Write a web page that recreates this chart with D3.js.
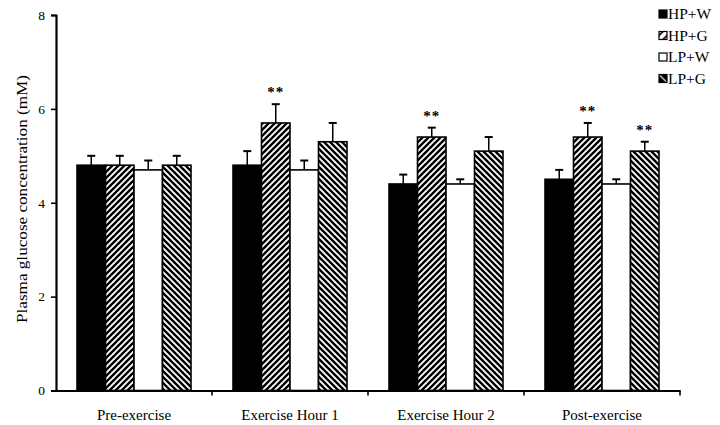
<!DOCTYPE html>
<html>
<head>
<meta charset="utf-8">
<script src="https://cdn.jsdelivr.net/npm/d3@7"></script>
<style>
  html, body { margin: 0; padding: 0; background: #fff; }
  svg { display: block; }
  text { font-family: "Liberation Serif", "DejaVu Serif", serif; fill: #000; }
</style>
</head>
<body>
<script>
// ---- data ----
const categories = ["Pre-exercise", "Exercise Hour 1", "Exercise Hour 2", "Post-exercise"];
const seriesNames = ["HP+W", "HP+G", "LP+W", "LP+G"];
const hpwValues = [4.8, 4.8, 4.4, 4.5];
const hpwErrors = [0.2, 0.3, 0.2, 0.2];
const hpgValues = [4.8, 5.7, 5.4, 5.4];
const hpgErrors = [0.2, 0.4, 0.2, 0.3];
const lpwValues = [4.7, 4.7, 4.4, 4.4];
const lpwErrors = [0.2, 0.2, 0.1, 0.1];
const lpgValues = [4.8, 5.3, 5.1, 5.1];
const lpgErrors = [0.2, 0.4, 0.3, 0.2];
const hpgSignificance = ["", "**", "**", "**"];
const lpgSignificance = ["", "", "", "**"];
const yTicks = [0, 2, 4, 6, 8];
const yTitle = "Plasma glucose concentration (mM)";

const seriesValues = [hpwValues, hpgValues, lpwValues, lpgValues];
const seriesErrors = [hpwErrors, hpgErrors, lpwErrors, lpgErrors];
const seriesSig = [null, hpgSignificance, null, lpgSignificance];
const seriesFill = ["#000", "url(#hatchUp)", "#fff", "url(#hatchDown)"];
const legendFill = ["#000", "url(#hatchUpSmall)", "#fff", "url(#hatchDownSmall)"];

const W = 720, H = 425;
const svg = d3.select("body").append("svg").attr("width", W).attr("height", H);

// patterns
const defs = svg.append("defs");
function hatch(id, up, size, sw) {
  const p = defs.append("pattern").attr("id", id)
    .attr("patternUnits", "userSpaceOnUse").attr("width", size).attr("height", size);
  p.append("rect").attr("width", size).attr("height", size).attr("fill", "#fff");
  const s = size;
  const d = up
    ? `M${-s/2},${s/2} L${s/2},${-s/2} M0,${s} L${s},0 M${s/2},${s*1.5} L${s*1.5},${s/2}`
    : `M${-s/2},${s/2} L${s/2},${s*1.5} M0,0 L${s},${s} M${s/2},${-s/2} L${s*1.5},${s/2}`;
  p.append("path").attr("d", d).attr("stroke", "#000").attr("stroke-width", sw);
}
hatch("hatchUp", true, 6, 2.4);
hatch("hatchDown", false, 6, 2.4);
hatch("hatchUpSmall", true, 8, 1.6);
hatch("hatchDownSmall", false, 8, 4.5);

const x0 = d3.scaleBand().domain(categories).range([56, 680]).padding(0);
const x1 = d3.scaleBand().domain(seriesNames).range([21, 135]).padding(0);
const y = d3.scaleLinear().domain([0, 8]).range([390.5, 15]);

// bars
const groups = svg.append("g").selectAll("g").data(categories).join("g")
  .attr("transform", c => `translate(${x0(c)},0)`);

seriesNames.forEach((s, si) => {
  groups.append("rect")
    .attr("x", (c) => x1(s))
    .attr("y", (c, ci) => y(seriesValues[si][ci]))
    .attr("width", x1.bandwidth())
    .attr("height", (c, ci) => y(0) - y(seriesValues[si][ci]))
    .attr("fill", seriesFill[si])
    .attr("stroke", "#000").attr("stroke-width", 1.6);
});

// error bars
seriesNames.forEach((s, si) => {
  const cx = x1(s) + x1.bandwidth() / 2;
  groups.append("line")
    .attr("x1", cx).attr("x2", cx)
    .attr("y1", (c, ci) => y(seriesValues[si][ci]))
    .attr("y2", (c, ci) => y(seriesValues[si][ci] + seriesErrors[si][ci]))
    .attr("stroke", "#000").attr("stroke-width", 1.5);
  groups.append("line")
    .attr("x1", cx - 4).attr("x2", cx + 4)
    .attr("y1", (c, ci) => y(seriesValues[si][ci] + seriesErrors[si][ci]))
    .attr("y2", (c, ci) => y(seriesValues[si][ci] + seriesErrors[si][ci]))
    .attr("stroke", "#000").attr("stroke-width", 2);
  if (seriesSig[si]) {
    groups.append("text")
      .attr("x", cx)
      .attr("y", (c, ci) => y(seriesValues[si][ci] + seriesErrors[si][ci]) - 7)
      .attr("text-anchor", "middle")
      .attr("font-size", 15)
      .attr("font-weight", "bold")
      .attr("letter-spacing", 1)
      .text((c, ci) => seriesSig[si][ci]);
  }
});

// y axis
const yAxis = svg.append("g").attr("transform", "translate(56,0)")
  .call(d3.axisLeft(y).tickValues(yTicks).tickSize(5).tickPadding(6).tickFormat(d3.format("d")));
yAxis.select(".domain").attr("stroke-width", 2.2);
yAxis.selectAll(".tick line").attr("stroke-width", 1.6);
yAxis.selectAll("text").attr("font-size", 13.5).attr("font-family", "Liberation Serif, serif");

// x axis
const xAxis = svg.append("g").attr("transform", `translate(0,${y(0)})`)
  .call(d3.axisBottom(x0).tickSize(0).tickPadding(19).tickSizeOuter(0));
xAxis.select(".domain").attr("stroke-width", 2.2);
xAxis.selectAll("text").attr("font-size", 15).attr("font-family", "Liberation Serif, serif");
// boundary ticks
xAxis.selectAll(".btick").data(categories).join("line")
  .attr("class", "btick")
  .attr("x1", c => x0(c) + x0.bandwidth()).attr("x2", c => x0(c) + x0.bandwidth())
  .attr("y1", 0).attr("y2", 5)
  .attr("stroke", "#000").attr("stroke-width", 1.6);

// y title
svg.append("text")
  .attr("transform", "translate(27,199) rotate(-90)")
  .attr("text-anchor", "middle")
  .attr("font-size", 15.5)
  .attr("textLength", 248).attr("lengthAdjust", "spacingAndGlyphs")
  .text(yTitle);

// legend
const legend = svg.append("g").selectAll("g").data(seriesNames).join("g")
  .attr("transform", (d, i) => `translate(659,${14 + i * 21.5})`);
legend.append("rect")
  .attr("x", 0).attr("y", -4).attr("width", 8).attr("height", 8)
  .attr("fill", (d, i) => legendFill[i]).attr("stroke", "#000").attr("stroke-width", 1.2);
legend.append("text")
  .attr("x", 9).attr("y", 5)
  .attr("font-size", 15.5)
  .text(d => d);
</script>
</body>
</html>
